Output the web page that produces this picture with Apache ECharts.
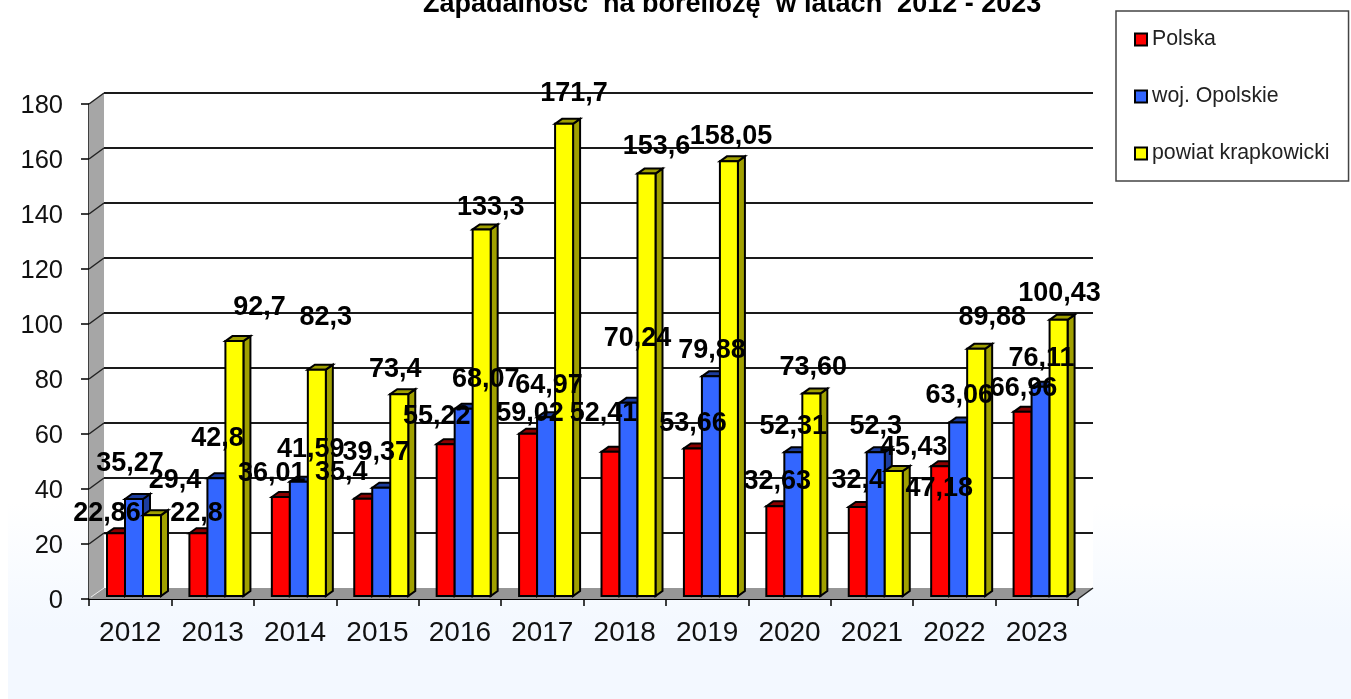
<!DOCTYPE html>
<html>
<head>
<meta charset="utf-8">
<title>Zapadalność na boreliozę</title>
<style>
  html, body { margin: 0; padding: 0; background: #fff; }
  #chart_container { width: 1351px; height: 699px; }
</style>
<script src="https://cdn.jsdelivr.net/npm/echarts@6/dist/echarts.min.js"></script>
</head>
<body>
<div id="chart_container"></div>
<script>
var years = ["2012", "2013", "2014", "2015", "2016", "2017", "2018", "2019", "2020", "2021", "2022", "2023"];
var seriesNames = ["Polska", "woj. Opolskie", "powiat krapkowicki"];

var polska = [22.86, 22.8, 36.01, 35.4, 55.22, 59.02, 52.41, 53.66, 32.63, 32.4, 47.18, 66.96];
var opolskie = [35.27, 42.8, 41.59, 39.37, 68.07, 64.97, 70.24, 79.88, 52.31, 52.3, 63.06, 76.11];
var krapkowicki = [29.4, 92.7, 82.3, 73.4, 133.3, 171.7, 153.6, 158.05, 73.6, 45.43, 89.88, 100.43];

// labels as printed on the chart (decimal comma, not always 2 places)
var polskaText = ["22,86", "22,8", "36,01", "35,4", "55,22", "59,02", "52,41", "53,66", "32,63", "32,4", "47,18", "66,96"];
var opolskieText = ["35,27", "42,8", "41,59", "39,37", "68,07", "64,97", "70,24", "79,88", "52,31", "52,3", "63,06", "76,11"];
var krapkowickiText = ["29,4", "92,7", "82,3", "73,4", "133,3", "171,7", "153,6", "158,05", "73,60", "45,43", "89,88", "100,43"];

var yTicks = [0, 20, 40, 60, 80, 100, 120, 140, 160, 180];

// hand moved labels in the original, so each one has its own nudge from the bar top
var nudgeX = [
  [-9, -2, -9, -22, -9, 2, -7, 0, 2, 0, -1, 1],
  [-4, 1, 12, -5, 22, 3, 9, 1, 0, 0, 1, 1],
  [23, 25, 9, -4, 9, 10, 10, 2, 2, 20, 16, 1]
];
var nudgeY = [
  [-20, -20, -23, -26, -28, -20, -38, -25, -25, -26, 22, -23],
  [-35, -40, -32, -35, -29, -32, -64, -26, -26, -26, -27, -28],
  [-35, -34, -52, -25, -22, -30, -27, -25, -26, -24, -31, -26]
];

var allValues = [polska, opolskie, krapkowicki];
var allText = [polskaText, opolskieText, krapkowickiText];
var frontColors = ["#ff0000", "#3366ff", "#ffff00"];
var sideColors = ["#8c0000", "#1c3d9e", "#a0a000"];

var WALL_DX = 15, WALL_DY = -11;   // depth of the chart box
var BAR_DX = 7, BAR_DY = -5;       // depth of one bar
var BAR_W = 18, BAR_LIFT = 3;

var dom = document.getElementById("chart_container");
var myChart = echarts.init(dom, null, { renderer: "canvas" });

function barRender(s) {
  return function (params, api) {
    var base = api.coord([api.value(0), 0]);
    var top = api.coord([api.value(0), api.value(1)]);
    var band = api.size([1, 0])[0];
    var x = base[0] - band / 2 + 18 + s * BAR_W;
    var y0 = base[1] - BAR_LIFT;
    var y1 = top[1] - BAR_LIFT;
    var line = { stroke: "#000", lineWidth: 2 };
    return {
      type: "group",
      children: [
        {
          type: "polygon",
          shape: { points: [[x + BAR_W, y1], [x + BAR_W + BAR_DX, y1 + BAR_DY], [x + BAR_W + BAR_DX, y0 + BAR_DY], [x + BAR_W, y0]] },
          style: { fill: sideColors[s], stroke: line.stroke, lineWidth: line.lineWidth }
        },
        {
          type: "polygon",
          shape: { points: [[x, y1], [x + BAR_DX, y1 + BAR_DY], [x + BAR_W + BAR_DX, y1 + BAR_DY], [x + BAR_W, y1]] },
          style: { fill: sideColors[s], stroke: line.stroke, lineWidth: line.lineWidth }
        },
        {
          type: "rect",
          shape: { x: x, y: y1, width: BAR_W, height: y0 - y1 },
          style: { fill: frontColors[s], stroke: line.stroke, lineWidth: line.lineWidth }
        }
      ]
    };
  };
}

function frameRender(params, api) {
  var n = years.length;
  var band = api.size([1, 0])[0];
  var left = api.coord([0, 0])[0] - band / 2;
  var right = left + band * n;
  var y0 = api.coord([0, 0])[1];
  var yTop = api.coord([0, 180])[1];
  var kids = [
    {
      // back wall stays white, the page gradient only shows outside it
      type: "rect",
      shape: { x: left + WALL_DX, y: yTop + WALL_DY, width: right - left, height: y0 - yTop },
      style: { fill: "#ffffff" }
    },
    {
      type: "polygon",
      shape: { points: [[left, y0], [left + WALL_DX, y0 + WALL_DY], [left + WALL_DX, yTop + WALL_DY], [left, yTop]] },
      style: { fill: "#a6a6a6" }
    },
    {
      type: "polygon",
      shape: { points: [[left, y0], [left + WALL_DX, y0 + WALL_DY], [right + WALL_DX, y0 + WALL_DY], [right, y0]] },
      style: { fill: "#969696" }
    },
    {
      type: "line",
      shape: { x1: left + 2, y1: y0 - 2, x2: left + WALL_DX, y2: y0 + WALL_DY },
      style: { stroke: "#e6e6e6", lineWidth: 1 }
    },
    {
      type: "line",
      shape: { x1: right, y1: y0, x2: right + WALL_DX, y2: y0 + WALL_DY },
      style: { stroke: "#222", lineWidth: 1.5 }
    }
  ];
  yTicks.forEach(function (t) {
    var y = api.coord([0, t])[1];
    if (t > 0) {
      kids.push({
        type: "line",
        shape: { x1: left + WALL_DX, y1: y + WALL_DY, x2: right + WALL_DX, y2: y + WALL_DY },
        style: { stroke: "#1a1a1a", lineWidth: 2 }
      });
      kids.push({
        type: "line",
        shape: { x1: left, y1: y, x2: left + WALL_DX, y2: y + WALL_DY },
        style: { stroke: "#222", lineWidth: 1.5 }
      });
    }
  });
  return { type: "group", children: kids };
}

function labelRender(params, api) {
  var s = api.value(2);
  var i = api.value(0);
  var base = api.coord([i, 0]);
  var top = api.coord([i, api.value(1)]);
  var band = api.size([1, 0])[0];
  var cx = base[0] - band / 2 + 18 + s * BAR_W + BAR_W / 2;
  return {
    type: "text",
    x: cx + nudgeX[s][i],
    y: top[1] - BAR_LIFT + nudgeY[s][i],
    style: {
      text: allText[s][i],
      align: "center",
      verticalAlign: "middle",
      fill: "#000",
      font: "bold 27px 'Liberation Sans', Arial, sans-serif"
    }
  };
}

var labelData = [];
allValues.forEach(function (vals, s) {
  vals.forEach(function (v, i) {
    labelData.push([i, v, s]);
  });
});

var series = [
  {
    type: "custom",
    name: "frame",
    silent: true,
    clip: false,
    z: 1,
    renderItem: frameRender,
    data: [[0, 0]]
  }
];
seriesNames.forEach(function (name, s) {
  series.push({
    type: "custom",
    name: name,
    clip: false,
    z: 2 + s,
    itemStyle: { color: frontColors[s] },
    renderItem: barRender(s),
    encode: { x: 0, y: 1 },
    data: allValues[s].map(function (v, i) { return [i, v]; })
  });
});
series.push({
  type: "custom",
  name: "labels",
  silent: true,
  clip: false,
  z: 10,
  renderItem: labelRender,
  encode: { x: 0, y: 1 },
  data: labelData
});

myChart.setOption({
  animation: false,
  backgroundColor: "transparent",
  graphic: [
    {
      type: "rect",
      z: -10,
      silent: true,
      shape: { x: 8, y: 0, width: 1343, height: 699 },
      style: {
        fill: new echarts.graphic.LinearGradient(0, 0, 0, 1, [
          { offset: 0, color: "#ffffff" },
          { offset: 0.72, color: "#ffffff" },
          { offset: 0.9, color: "#f3f8ff" },
          { offset: 1, color: "#f3f8ff" }
        ])
      }
    }
  ],
  title: {
    text: "Zapadalność  na boreliozę  w latach  2012 - 2023",
    left: 423,
    top: -9,
    padding: 0,
    textStyle: { fontFamily: "Liberation Sans", fontWeight: "bold", fontSize: 27, color: "#000" }
  },
  legend: {
    left: 1116,
    top: 11,
    orient: "vertical",
    padding: [18, 19, 17, 18],
    itemGap: 36,
    itemWidth: 12,
    itemHeight: 12,
    icon: "rect",
    borderColor: "#444",
    borderWidth: 1.5,
    itemStyle: { borderColor: "#000", borderWidth: 2 },
    data: seriesNames,
    textStyle: { fontFamily: "Liberation Sans", fontSize: 21.3, color: "#222" }
  },
  grid: { left: 89, right: 273, top: 104, bottom: 100 },
  xAxis: {
    type: "category",
    data: years,
    axisLine: { lineStyle: { color: "#000", width: 2 } },
    axisTick: { show: true, length: 7, lineStyle: { color: "#000", width: 1.5 } },
    axisLabel: { margin: 20, interval: 0, fontFamily: "Liberation Sans", fontSize: 28, color: "#111" },
    splitLine: { show: false }
  },
  yAxis: {
    type: "value",
    min: 0,
    max: 180,
    interval: 20,
    axisLine: { show: true, lineStyle: { color: "#000", width: 1.5 } },
    axisTick: { show: true, length: 8, lineStyle: { color: "#000", width: 1.5 } },
    axisLabel: {
      margin: 26,
      formatter: "{v|{value}}",
      rich: { v: { padding: [4, 0, 0, 0], fontFamily: "Liberation Sans", fontSize: 25.5, color: "#111" } }
    },
    splitLine: { show: false }
  },
  series: series
});

window.addEventListener("resize", myChart.resize);
</script>
</body>
</html>
